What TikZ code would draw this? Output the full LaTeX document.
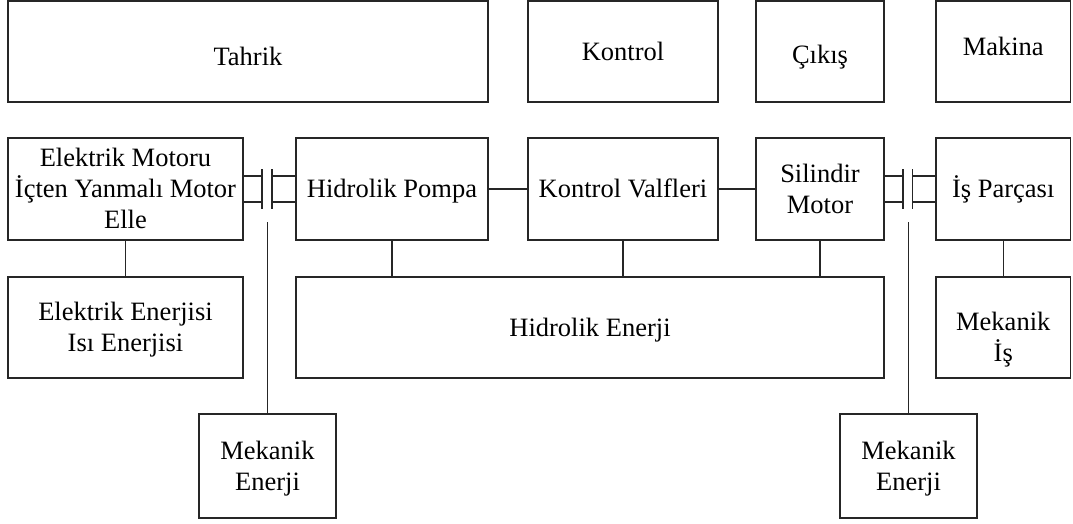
\documentclass[tikz,border=0pt]{standalone}
\usepackage{fontspec}
\setmainfont{Liberation Serif}
\begin{document}
\begin{tikzpicture}[x=1pt,y=-1pt,
  box/.style={draw=black!85, line width=1.4pt, inner sep=0pt, align=center,
    font=\fontsize{26.5}{31}\selectfont, text height=17.5pt, text depth=0pt},
  two/.style={text height=48.5pt},
  three/.style={text height=79.5pt},
  link/.style={draw=black!85, line width=1.4pt}]
\fill[white] (0,0) rectangle (1073,524);
\useasboundingbox (0,0) rectangle (1073,524);

% headings
\node[box, minimum width=480pt, minimum height=101pt, text height=27.5pt] (tahrik) at (248,51.5) {Tahrik};
\node[box, minimum width=190pt, minimum height=101pt] (kontrol) at (623,51.5) {Kontrol};
\node[box, minimum width=128pt, minimum height=101pt, text height=23.5pt] (cikis) at (820,51.5) {Çıkış};
\node[box, minimum width=134.5pt, minimum height=101pt, text depth=9pt] (makina) at (1003.25,51.5) {Makina};

% system chain
\node[box, three, minimum width=235pt, minimum height=102pt] (motor) at (125.5,189) {Elektrik Motoru\\İçten Yanmalı Motor\\Elle};
\node[box, minimum width=192pt, minimum height=102pt] (pompa) at (392,189) {Hidrolik Pompa};
\node[box, minimum width=190pt, minimum height=102pt] (valf) at (623,189) {Kontrol Valfleri};
\node[box, two, minimum width=128pt, minimum height=102pt] (silindir) at (820,189) {Silindir\\Motor};
\node[box, minimum width=134.5pt, minimum height=102pt] (parca) at (1003.25,189) {İş Parçası};

% energy forms
\node[box, two, minimum width=235pt, minimum height=101pt] (elenerji) at (125.5,327.5) {Elektrik Enerjisi\\Isı Enerjisi};
\node[box, minimum width=588pt, minimum height=101pt] (hidenerji) at (590,327.5) {Hidrolik Enerji};
\node[box, minimum width=134.5pt, minimum height=101pt, text height=68.5pt] (mekis) at (1003.25,327.5) {Mekanik\\İş};
\node[box, two, minimum width=137pt, minimum height=104pt] (mek1) at (267.5,466) {Mekanik\\Enerji};
\node[box, two, minimum width=137pt, minimum height=104pt] (mek2) at (908.5,466) {Mekanik\\Enerji};

% connectors
\draw[link] (pompa.east) -- (valf.west);
\draw[link] (valf.east) -- (silindir.west);
\draw[link] (motor.south) -- (elenerji.north);
\draw[link] (pompa.south) -- (pompa.south |- hidenerji.north);
\draw[link] (valf.south) -- (valf.south |- hidenerji.north);
\draw[link] (silindir.south) -- (silindir.south |- hidenerji.north);
\draw[link] (parca.south) -- (mekis.north);

% left coupling
\coordinate (k1a) at (262,176);
\coordinate (k1b) at (262,202);
\coordinate (k1c) at (272,176);
\coordinate (k1d) at (272,202);
\coordinate (s1) at (267.5,222);
\draw[link] (motor.east |- k1a) -- (k1a);
\draw[link] (motor.east |- k1b) -- (k1b);
\draw[link] (k1c) -- (pompa.west |- k1c);
\draw[link] (k1d) -- (pompa.west |- k1d);
\draw[link] (262,169) -- (262,209);
\draw[link] (272,169) -- (272,209);
\draw[link] (s1) -- (mek1.north);

% right coupling
\coordinate (k2a) at (903,176);
\coordinate (k2b) at (903,202);
\coordinate (k2c) at (912.5,176);
\coordinate (k2d) at (912.5,202);
\coordinate (s2) at (908.5,222);
\draw[link] (silindir.east |- k2a) -- (k2a);
\draw[link] (silindir.east |- k2b) -- (k2b);
\draw[link] (k2c) -- (parca.west |- k2c);
\draw[link] (k2d) -- (parca.west |- k2d);
\draw[link] (903,169) -- (903,209);
\draw[link] (912.5,169) -- (912.5,209);
\draw[link] (s2) -- (mek2.north);
\end{tikzpicture}
\end{document}
